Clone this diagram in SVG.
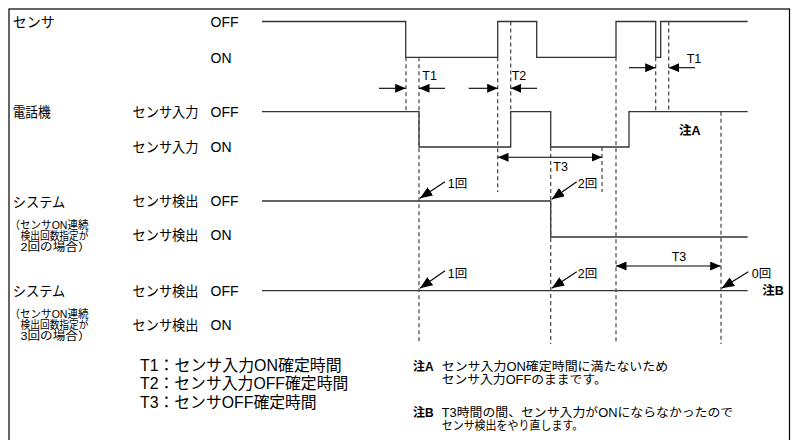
<svg xmlns="http://www.w3.org/2000/svg" width="800" height="440" viewBox="0 0 800 440">
<defs>
<style>
text{font-family:"Liberation Sans","Noto Sans CJK JP",sans-serif;fill:#000}
.lb{font-size:14px}
.sm{font-size:11px}
.tl{font-size:12.5px}
.lg{font-size:16px}
.nt{font-size:12px}
.b{font-weight:bold}
.wave{fill:none;stroke:#333;stroke-width:1.3}
.dash{fill:none;stroke:#444;stroke-width:1.2;stroke-dasharray:4 3}
.arr{fill:none;stroke:#000;stroke-width:1.1}
</style>
<marker id="ah" markerUnits="userSpaceOnUse" markerWidth="11" markerHeight="9" refX="10.5" refY="4.5" orient="auto-start-reverse" viewBox="0 0 11 9">
<path d="M0,0 L10.5,4.5 L0,9 Z" fill="#000"/>
</marker>
<marker id="ah2" markerUnits="userSpaceOnUse" markerWidth="13" markerHeight="10" refX="12.5" refY="5" orient="auto" viewBox="0 0 13 10">
<path d="M0,0 L12.5,5 L0,10 Z" fill="#000"/>
</marker>
</defs>
<rect x="9" y="9" width="780.5" height="445" fill="#fff" stroke="#000" stroke-width="1.2"/>
<g id="labels">
<text class="lb" x="12.7" y="27">センサ</text>
<text class="lb" x="210.5" y="26.7">OFF</text>
<text class="lb" x="210.5" y="63.3">ON</text>
<text class="lb" x="12.7" y="116.8" textLength="38" lengthAdjust="spacingAndGlyphs">電話機</text>
<text class="lb" x="132.5" y="116.8"><tspan textLength="66" lengthAdjust="spacingAndGlyphs">センサ入力</tspan> <tspan x="210.5">OFF</tspan></text>
<text class="lb" x="132.5" y="152"><tspan textLength="66" lengthAdjust="spacingAndGlyphs">センサ入力</tspan> <tspan x="210.5">ON</tspan></text>
</g>
<g id="system1-labels">
<text class="lb" x="12.7" y="206.7" textLength="52.5" lengthAdjust="spacingAndGlyphs">システム</text>
<text class="lb" x="132.5" y="206"><tspan textLength="66" lengthAdjust="spacingAndGlyphs">センサ検出</tspan> <tspan x="210.5">OFF</tspan></text>
<text class="lb" x="132.5" y="240.4"><tspan textLength="66" lengthAdjust="spacingAndGlyphs">センサ検出</tspan> <tspan x="210.5">ON</tspan></text>
<text class="sm" x="9.5" y="228.5" textLength="79" lengthAdjust="spacingAndGlyphs">（センサON連続</text>
<text class="sm" x="20.5" y="239.5" textLength="68" lengthAdjust="spacingAndGlyphs">検出回数指定が</text>
<text class="sm" x="20.5" y="250.5" textLength="70" lengthAdjust="spacingAndGlyphs">2回の場合）</text>
</g>
<g id="system2-labels">
<text class="lb" x="12.7" y="295.5" textLength="52.5" lengthAdjust="spacingAndGlyphs">システム</text>
<text class="lb" x="132.5" y="295.7"><tspan textLength="66" lengthAdjust="spacingAndGlyphs">センサ検出</tspan> <tspan x="210.5">OFF</tspan></text>
<text class="lb" x="132.5" y="330"><tspan textLength="66" lengthAdjust="spacingAndGlyphs">センサ検出</tspan> <tspan x="210.5">ON</tspan></text>
<text class="sm" x="9.5" y="318.2" textLength="79" lengthAdjust="spacingAndGlyphs">（センサON連続</text>
<text class="sm" x="20.5" y="329.2" textLength="68" lengthAdjust="spacingAndGlyphs">検出回数指定が</text>
<text class="sm" x="20.5" y="340.2" textLength="70" lengthAdjust="spacingAndGlyphs">3回の場合）</text>
</g>
<g id="waveforms">
<path class="wave" d="M262,21.5 H405.7 V57.3 H497.7 V21.5 H536.7 V57.3 H616 V21.5 H655.7 V57.3 H660.7 V21.5 H747.7"/>
<path class="wave" d="M262,111.7 H419 V147 H510.7 V111.7 H550.7 V147 H629 V111.7 H747.7"/>
<path class="wave" d="M262,201 H550.7 V237 H747.7"/>
<path class="wave" d="M262,290.7 H747.7"/>
</g>
<g id="guides">
<path class="dash" d="M406,57.3 V111.7 M419,57.3 V344 M497.7,57.3 V192 M510.7,21.5 V111.7 M550.7,147 V344 M602,147 V192 M616,57.3 V344 M655.7,57.3 V111.7 M668.7,21.5 V111.7 M721,111.7 V344"/>
</g>
<g id="connectors">
<path class="arr" d="M379,88.3 H405.7" marker-end="url(#ah)"/>
<path class="arr" d="M445,88.3 H419" marker-end="url(#ah)"/>
<path class="arr" d="M468.7,88.3 H497.7" marker-end="url(#ah)"/>
<path class="arr" d="M537,88.3 H510.7" marker-end="url(#ah)"/>
<path class="arr" d="M629,67.7 H655.7" marker-end="url(#ah)"/>
<path class="arr" d="M695,67.7 H668.7" marker-end="url(#ah)"/>
<path class="arr" d="M498,157.3 H602" marker-start="url(#ah)" marker-end="url(#ah)"/>
<path class="arr" d="M616,266 H720.7" marker-start="url(#ah)" marker-end="url(#ah)"/>
<path class="arr" d="M445,181.7 L420,198.3" marker-end="url(#ah2)"/>
<path class="arr" d="M576.7,181.7 L551.7,199.3" marker-end="url(#ah2)"/>
<path class="arr" d="M445,270.7 L420,288.3" marker-end="url(#ah2)"/>
<path class="arr" d="M576.7,271.7 L551.7,288.3" marker-end="url(#ah2)"/>
<path class="arr" d="M748.3,271.7 L721.7,288.3" marker-end="url(#ah2)"/>
</g>
<g id="timing-labels">
<text class="tl" x="422.3" y="80">T1</text>
<text class="tl" x="511.7" y="80">T2</text>
<text class="tl" x="686.7" y="63.3">T1</text>
<text class="tl" x="553.3" y="170.5">T3</text>
<text class="tl" x="671.7" y="260.5">T3</text>
<text class="tl" x="447.7" y="188">1回</text>
<text class="tl" x="577.7" y="188.3">2回</text>
<text class="tl" x="447.7" y="277.5">1回</text>
<text class="tl" x="577.7" y="277.7">2回</text>
<text class="tl" x="751.7" y="277.7">0回</text>
<text class="tl b" x="679" y="134.5">注A</text>
<text class="tl b" x="762.3" y="295">注B</text>
</g>
<g id="legend">
<text class="lg" x="140" y="371" textLength="201.7" lengthAdjust="spacingAndGlyphs">T1：センサ入力ON確定時間</text>
<text class="lg" x="140" y="389.4" textLength="208.3" lengthAdjust="spacingAndGlyphs">T2：センサ入力OFF確定時間</text>
<text class="lg" x="140" y="408" textLength="176.7" lengthAdjust="spacingAndGlyphs">T3：センサOFF確定時間</text>
</g>
<g id="notes">
<text class="nt b" x="413" y="370.6">注A</text>
<text class="nt" x="441.7" y="370.6" textLength="226.5" lengthAdjust="spacingAndGlyphs">センサ入力ON確定時間に満たないため</text>
<text class="nt" x="441.7" y="383.8" textLength="165" lengthAdjust="spacingAndGlyphs">センサ入力OFFのままです。</text>
<text class="nt b" x="413" y="417.2">注B</text>
<text class="nt" x="441.7" y="417.2" textLength="291.5" lengthAdjust="spacingAndGlyphs">T3時間の間、センサ入力がONにならなかったので</text>
<text class="nt" x="441.7" y="429.6" textLength="141.6" lengthAdjust="spacingAndGlyphs">センサ検出をやり直します。</text>
</g>
</svg>
